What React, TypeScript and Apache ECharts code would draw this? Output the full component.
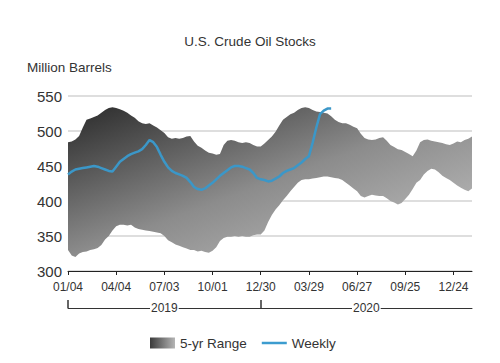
import React, { useEffect, useRef } from "react";
import * as echarts from "echarts";

const tickLabels = ["01/04", "04/04", "07/03", "10/01", "12/30", "03/29", "06/27", "09/25", "12/24"];
const yearLabels = ["2019", "2020"];

const rangeUpper = [
  484, 485, 488, 493, 505, 516, 518, 520, 522, 526,
  530, 533, 534, 533, 531, 529, 526, 522, 519, 514,
  511, 510, 511, 508, 505, 501, 497, 491, 489, 490,
  489, 490, 492, 493, 485, 479, 476, 472, 469, 468,
  466, 467, 480, 486, 487, 486, 484, 483, 484, 483,
  480, 478, 478, 482, 487, 492, 499, 508, 516, 520,
  524, 526, 530, 533, 534, 533, 530, 528, 527, 526,
  525, 521, 516, 513, 511, 511, 509, 506, 504, 496,
  490, 488, 487, 488, 490, 491, 486, 480, 477, 474,
  473, 470, 467, 464, 472, 484, 487, 488, 486, 485,
  484, 483, 481, 480, 482, 485, 484, 487, 489, 492,
];

const rangeLower = [
  330, 322, 320, 325, 327, 328, 330, 331, 333, 337,
  345, 350, 358, 364, 366, 366, 365, 366, 362, 360,
  359, 358, 357, 356, 355, 354, 350, 344, 341, 338,
  336, 334, 332, 330, 330, 328, 329, 327, 326, 329,
  334, 343, 347, 349, 349, 350, 349, 350, 349, 349,
  351, 352, 352, 358, 370, 380, 388, 394, 401, 407,
  414, 420, 426, 430, 431, 431, 432, 433, 434, 435,
  435, 434, 433, 432, 430, 426, 422, 418, 414, 407,
  405, 407, 409, 408, 407, 407, 404, 400, 398, 395,
  397, 403, 409, 417, 426, 430, 438, 443, 446, 445,
  441, 436, 433, 430, 426, 422, 419, 416, 414, 418,
];

const weekly = [
  438, 442, 445, 446, 447, 448, 449, 450, 449, 447,
  445, 443, 442, 449, 456, 460, 464, 467, 469, 471,
  474, 480, 487, 484, 477, 466, 456, 448, 443, 440,
  438, 436, 433, 427, 420, 417, 416, 418, 422, 426,
  431, 436, 440, 444, 448, 450, 450, 449, 447, 445,
  440, 433, 431, 430, 428, 429, 432, 435, 440, 443,
  445, 447, 451, 455, 460, 464, 483, 505, 524, 529,
  532, 532,
];

const WEEKS_PER_TICK = 13;
const LAST_WEEK = rangeUpper.length - 1;
const YEAR_BREAK = 52;

// weekly category dates (2019-01-04 onward)
const weeks = rangeUpper.map((_, i) => {
  const d = new Date(Date.UTC(2019, 0, 4 + i * 7));
  return `${d.getUTCFullYear()}-${String(d.getUTCMonth() + 1).padStart(2, "0")}-${String(d.getUTCDate()).padStart(2, "0")}`;
});

export default function App() {
  const ref = useRef<HTMLDivElement>(null);

  useEffect(() => {
    document.body.style.margin = "0";
    if (!ref.current) return;
    const chart = echarts.init(ref.current, null, { renderer: "svg" });

    const bandGradient = new echarts.graphic.LinearGradient(0, 0, 1, 1, [
      { offset: 0, color: "#2a2a2a" },
      { offset: 0.5, color: "#8c8c8c" },
      { offset: 1, color: "#c4c4c4" },
    ]);
    const legendGradient = new echarts.graphic.LinearGradient(0, 0, 1, 0, [
      { offset: 0, color: "#3a3a3a" },
      { offset: 1, color: "#b5b5b5" },
    ]);

    const font = "'Liberation Sans', Arial, sans-serif";
    const isTick = (i: number) => i % WEEKS_PER_TICK === 0 && i / WEEKS_PER_TICK < tickLabels.length;

    chart.setOption({
      animation: false,
      backgroundColor: "#fff",
      textStyle: { fontFamily: font },
      title: [
        {
          text: "U.S. Crude Oil Stocks",
          left: "center",
          top: 34,
          padding: 0,
          textStyle: { fontSize: 13.5, fontWeight: "normal", color: "#333", fontFamily: font },
        },
        {
          text: "Million Barrels",
          left: 27,
          top: 60,
          padding: 0,
          textStyle: { fontSize: 13.5, fontWeight: "normal", color: "#333", fontFamily: font },
        },
      ],
      grid: { left: 68, right: 28, top: 96, bottom: 92, outerBoundsMode: "none" },
      legend: {
        left: 150,
        top: 336,
        padding: 0,
        itemWidth: 25,
        itemHeight: 11,
        itemGap: 15,
        textStyle: { fontSize: 13.5, color: "#333", fontFamily: font },
        data: [
          { name: "5-yr Range", icon: "rect", itemStyle: { color: legendGradient } },
          { name: "Weekly", icon: "path://M0,0H30V3H0Z", itemStyle: { color: "#3c9ccf" } },
        ],
      },
      xAxis: [
        {
          type: "category",
          data: weeks,
          boundaryGap: false,
          position: "bottom",
          splitLine: { show: false },
          axisLine: { show: true, onZero: false, lineStyle: { color: "#222", width: 1 } },
          axisTick: { show: true, interval: (i: number) => isTick(i), length: 4, lineStyle: { color: "#222" } },
          axisLabel: {
            interval: (i: number) => isTick(i),
            formatter: (_v: string, i: number) => (isTick(i) ? tickLabels[i / WEEKS_PER_TICK] : ""),
            fontSize: 12,
            color: "#333",
            margin: 10,
            fontFamily: font,
          },
        },
        {
          type: "value",
          min: 0,
          max: LAST_WEEK,
          position: "bottom",
          offset: 37,
          splitLine: { show: false },
          axisLine: { show: true, onZero: false, lineStyle: { color: "#333", width: 1 } },
          axisTick: { show: true, inside: true, customValues: [0, YEAR_BREAK], length: 8, lineStyle: { color: "#333", width: 1.5 } },
          axisLabel: {
            customValues: [YEAR_BREAK / 2, (YEAR_BREAK + LAST_WEEK) / 2],
            formatter: (v: number) => (v < YEAR_BREAK ? yearLabels[0] : yearLabels[1]),
            fontSize: 12,
            color: "#333",
            margin: 0,
            verticalAlign: "middle",
            backgroundColor: "#fff",
            padding: [0, 1],
            fontFamily: font,
          },
        },
      ],
      yAxis: {
        type: "value",
        min: 300,
        max: 550,
        interval: 50,
        axisLine: { show: false },
        axisTick: { show: false },
        splitLine: { show: true, lineStyle: { color: "#d3d3d3", width: 1.5 } },
        axisLabel: { fontSize: 15, color: "#333", margin: 6, fontFamily: font },
      },
      series: [
        {
          name: "lower",
          type: "line",
          stack: "band",
          symbol: "none",
          lineStyle: { width: 0, opacity: 0 },
          data: rangeLower,
          silent: true,
        },
        {
          name: "5-yr Range",
          type: "line",
          stack: "band",
          symbol: "none",
          lineStyle: { width: 0, opacity: 0 },
          itemStyle: { color: "#666" },
          areaStyle: { color: bandGradient, opacity: 1 },
          data: rangeUpper.map((v, i) => v - rangeLower[i]),
        },
        {
          name: "Weekly",
          type: "line",
          symbol: "none",
          lineStyle: { color: "#3b97c8", width: 2.5 },
          itemStyle: { color: "#3c9ccf" },
          data: weekly,
          z: 5,
        },
      ],
    });

    return () => chart.dispose();
  }, []);

  return <div ref={ref} style={{ width: 500, height: 363 }} />;
}
